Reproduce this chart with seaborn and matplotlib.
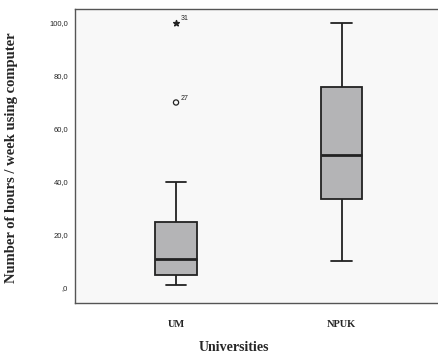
import matplotlib
matplotlib.use("Agg")
import matplotlib.pyplot as plt
import pandas as pd
import seaborn as sns

# five-number summaries (min whisker, Q1, median, Q3, max whisker)
universities = ["UM", "NPUK"]
um_hours = [1, 5, 11, 25, 40]
npuk_hours = [10, 33.5, 50, 76, 100]

# outliers of UM
outlier_values = [70, 100]
outlier_cases = ["27", "31"]
outlier_markers = ["o", "*"]

yticks = [0, 20, 40, 60, 80, 100]
ytick_labels = [",0", "20,0", "40,0", "60,0", "80,0", "100,0"]

df = pd.DataFrame({
    "university": ["UM"] * len(um_hours) + ["NPUK"] * len(npuk_hours),
    "hours": um_hours + npuk_hours,
})

sns.set_style("white")
fig = plt.figure(figsize=(4.39, 3.55), dpi=100)
ax = fig.add_axes([75 / 439, 52 / 355, 366 / 439, 294 / 355])
ax.set_facecolor("#f8f8f8")

sns.boxplot(data=df, x="university", y="hours", order=universities, ax=ax,
            width=0.25, color="#b4b4b6", showfliers=False, linewidth=1.3,
            linecolor="#222222", saturation=1,
            medianprops={"linewidth": 2.0})

for val, case, mk in zip(outlier_values, outlier_cases, outlier_markers):
    if mk == "o":
        ax.scatter([0], [val], marker="o", s=14, facecolors="none",
                   edgecolors="#222222", linewidths=0.9, zorder=5)
    else:
        ax.scatter([0], [val], marker="*", s=18, color="#222222", zorder=5)
    ax.annotate(case, (0, val), xytext=(3, 2), textcoords="offset points",
                fontsize=5, family="Liberation Sans", color="#222222")

ax.set_xlim(-0.61, 1.6)
ax.set_ylim(-5.7, 105.3)
ax.set_yticks(yticks)
ax.set_yticklabels(ytick_labels, fontsize=5.5, family="Liberation Sans")
ax.set_xticks([0, 1])
ax.set_xticklabels(universities, fontsize=7.5, fontweight="bold",
                   family="Liberation Serif")
ax.tick_params(axis="y", length=4, width=0.8, color="#333333", pad=1)
ax.tick_params(axis="x", length=4, width=0.8, color="#333333", pad=8)

for s in ax.spines.values():
    s.set_color("#555555")
    s.set_linewidth(1.0)

ax.set_ylabel("Number of hours / week using computer", fontsize=10.5,
              fontweight="bold", family="Liberation Serif")
ax.yaxis.set_label_coords(-0.155, 0.495)
ax.set_xlabel("Universities", fontsize=10, fontweight="bold",
              family="Liberation Serif")
ax.xaxis.set_label_coords(0.434, -0.13)

fig.savefig("out.png", dpi=100)
